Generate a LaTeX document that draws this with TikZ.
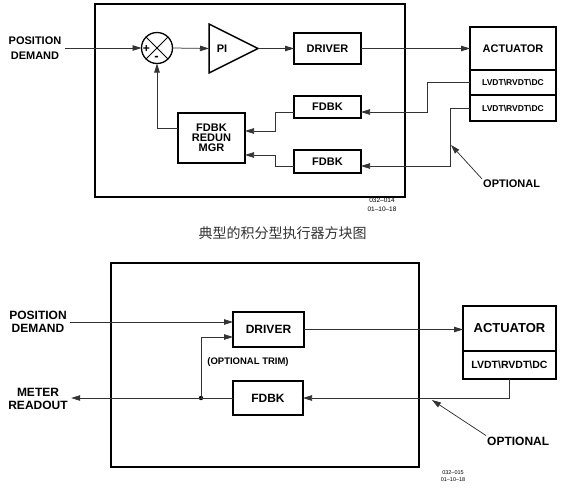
\documentclass[tikz,border=0pt]{standalone}
\usepackage{fontspec}
\setmainfont{Liberation Sans}
\newfontfamily\cjkfont{Noto Sans CJK SC}
\usetikzlibrary{arrows.meta,positioning,shapes.geometric}

\begin{document}
\begin{tikzpicture}[x=1pt, y=-1pt,
    box/.style={draw, line width=1.5pt, inner sep=0pt, outer sep=0pt},
    frame/.style={draw, line width=2pt, inner sep=0pt, outer sep=0pt},
    sig/.style={line width=0.75pt, draw=black!80},
    arr/.style={sig, -{Triangle[length=9pt,width=5.5pt]}},
    txtA/.style={font=\fontsize{11}{15}\selectfont\bfseries, align=center},
    txtB/.style={font=\fontsize{12}{12.5}\selectfont\bfseries, align=center},
    tag/.style={font=\fontsize{6.5}{9}\selectfont, align=center, inner sep=0pt}]
    \useasboundingbox (0,0) rectangle (562,488);

    \node[frame, minimum width=310pt, minimum height=193pt] (ctrlA) at (250,100.5) {};
    \node[txtA] (posA) at (35,48) {POSITION\\DEMAND};
    \node[draw, circle, line width=1.3pt, minimum size=31pt, inner sep=0pt, outer sep=0pt] (sum) at (157,48) {};
    \draw[line width=0.8pt] (sum.north west) -- (sum.south east) (sum.north east) -- (sum.south west);
    \node[font=\fontsize{12}{12}\selectfont\bfseries, inner sep=0pt] (plus) at ([xshift=-10.5pt,yshift=-0.5pt]sum.center) {+};
    \node[font=\fontsize{13}{13}\selectfont\bfseries, inner sep=0pt] (minus) at ([xshift=-0.5pt,yshift=-10pt]sum.center) {-};
    \node[draw, isosceles triangle, isosceles triangle stretches, minimum width=49pt, minimum height=49pt,
          line width=1.5pt, inner sep=0pt, outer sep=0pt, anchor=west] (pi) at (209,48.5) {};
    \node[txtA] (pilbl) at ([xshift=13pt]pi.west) {PI};
    \node[box, txtA, minimum width=67pt, minimum height=31pt] (drvA) at (327.5,48.5) {DRIVER};
    \node[box, txtA, minimum width=86pt, minimum height=43pt] (actA) at (513,48.5) {ACTUATOR};
    \node[box, font=\fontsize{8.5}{8.5}\selectfont\bfseries, minimum width=86pt, minimum height=25pt, below=0pt of actA] (lvdtA) {LVDT\textbackslash RVDT\textbackslash DC};
    \node[box, font=\fontsize{8.5}{8.5}\selectfont\bfseries, minimum width=86pt, minimum height=26pt, below=0pt of lvdtA] (lvdtB) {LVDT\textbackslash RVDT\textbackslash DC};
    \node[box, txtA, minimum width=67pt, minimum height=22pt] (fbkA) at (327.5,107) {FDBK};
    \node[box, txtA, minimum width=67pt, minimum height=23pt] (fbkB) at (327.5,161.5) {FDBK};
    \node[box, font=\fontsize{11}{10}\selectfont\bfseries, align=center, minimum width=67pt, minimum height=50pt] (mgr) at (211.5,138) {FDBK\\REDUN\\MGR};
    \node[txtA, anchor=west, inner sep=1pt] (optA) at (482,184) {OPTIONAL};
    \coordinate (tipA) at (451,145);

    \draw[arr] (posA.east) -- (sum.west);
    \draw[arr] (sum.east) -- (pi.west);
    \draw[arr] (pi.apex) -- (drvA.west);
    \draw[arr] (drvA.east) -- (drvA.east -| actA.west);
    \draw[arr] (lvdtA.west) -- ++(-43,0) |- ([yshift=-5pt]fbkA.east);
    \draw[arr] (lvdtB.west) -- ++(-20,0) |- ([yshift=-4.5pt]fbkB.east);
    \draw[arr] ([yshift=-5pt]fbkA.west) -- ++(-19,0) |- ([yshift=7pt]mgr.east);
    \draw[arr] ([yshift=-4.5pt]fbkB.west) -- ++(-19,0) |- ([yshift=-17pt]mgr.east);
    \draw[arr] ([yshift=10pt]mgr.west) -| (sum.south);
    \draw[arr] (optA.north west) -- (tipA);

    \node[tag] (codeA) at (382,205) {032--014\\01--10--18};
    \node[font=\cjkfont\fontsize{14}{14}\selectfont, text=black!80] (cap) at (282.5,233.5) {典型的积分型执行器方块图};

    \node[frame, minimum width=308pt, minimum height=204pt] (ctrlB) at (265,365) {};
    \node[txtB] (posB) at (38,322) {POSITION\\DEMAND};
    \node[box, txtB, minimum width=71pt, minimum height=35pt] (drvB) at (268.5,329.5) {DRIVER};
    \node[font=\fontsize{9.5}{9.5}\selectfont\bfseries] (trim) at (248,362) {(OPTIONAL TRIM)};
    \node[box, txtB, minimum width=70pt, minimum height=34pt] (fbkC) at (268,398) {FDBK};
    \node[box, font=\fontsize{13}{13}\selectfont\bfseries, minimum width=93pt, minimum height=45pt] (actB) at (509.5,328.5) {ACTUATOR};
    \node[box, font=\fontsize{10.5}{10.5}\selectfont\bfseries, minimum width=93pt, minimum height=28pt, below=0pt of actB] (lvdtC) {LVDT\textbackslash RVDT\textbackslash DC};
    \node[txtB] (meter) at (38,399) {METER\\READOUT};
    \node[txtB, anchor=west, inner sep=1pt] (optB) at (486,441) {OPTIONAL};
    \coordinate (tap) at (201,398);
    \coordinate (tipB) at (432,400);
    \fill (tap) circle (2.2pt);

    \draw[arr] (posB.east) -- (posB.east -| drvB.west);
    \draw[arr] (tap) |- ([yshift=-7.5pt]drvB.west);
    \draw[arr] (drvB.east) -- (drvB.east -| actB.west);
    \draw[arr] (lvdtC.south) |- (fbkC.east);
    \draw[arr] (fbkC.west) -- (fbkC.west -| meter.east);
    \draw[arr] (optB.north west) -- (tipB);

    \node[tag, font=\fontsize{5.5}{7}\selectfont] (codeB) at (453,476) {032--015\\01--10--18};
\end{tikzpicture}
\end{document}
